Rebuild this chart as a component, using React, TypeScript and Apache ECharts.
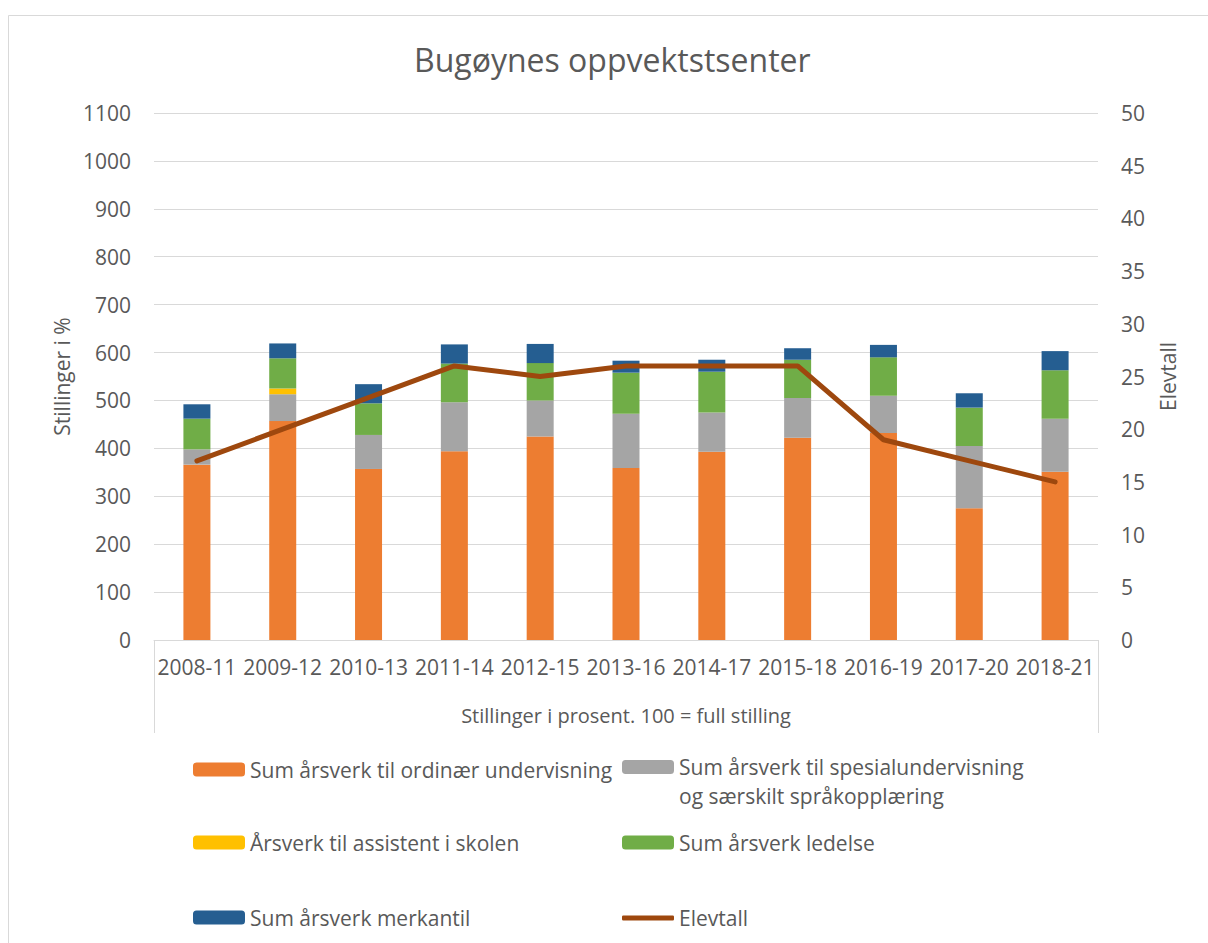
import React, { useEffect, useRef } from "react";
import * as echarts from "echarts";

const categories = ["2008-11", "2009-12", "2010-13", "2011-14", "2012-15", "2013-16", "2014-17", "2015-18", "2016-19", "2017-20", "2018-21"];
const ordinaer = [366, 457, 357, 394, 425, 359, 393, 422, 432, 275, 351];
const spesial = [32, 56, 71, 102, 75, 113, 82, 83, 78, 130, 111];
const assistent = [0, 12, 0, 0, 0, 0, 0, 0, 0, 0, 0];
const ledelse = [64, 63, 66, 81, 78, 86, 85, 80, 80, 80, 101];
const merkantil = [30, 31, 40, 40, 40, 25, 25, 24, 26, 30, 40];
const elevtall = [17, 20, 23, 26, 25, 26, 26, 26, 19, 17, 15];

const N1 = "Sum årsverk til ordinær undervisning";
const N2 = "Sum årsverk til spesialundervisning og særskilt språkopplæring";
const N3 = "Årsverk til assistent i skolen";
const N4 = "Sum årsverk ledelse";
const N5 = "Sum årsverk merkantil";
const N6 = "Elevtall";

const FONT = "Open Sans";
const TXT = "#595959";

export default function App() {
  const ref = useRef<HTMLDivElement>(null);
  useEffect(() => {
    const chart = echarts.init(ref.current!, null, { renderer: "svg" });
    const legendBase = (name: any, left: number, top: number, extra: any = {}) => ({
      show: true,
      data: [name],
      left,
      top,
      padding: 0,
      itemWidth: 52,
      itemHeight: extra.itemHeight ?? 14,
      selectedMode: false,
      textStyle: { fontFamily: FONT, fontSize: 21, color: TXT, lineHeight: extra.itemHeight ?? 14, ...(extra.textStyle || {}) },
      ...(extra.formatter ? { formatter: extra.formatter } : {}),
    });
    const barSeries = (name: string, data: number[], color: string) => ({
      name,
      type: "bar",
      stack: "total",
      data,
      barWidth: 27,
      itemStyle: { color },
      emphasis: { disabled: true },
    });
    chart.setOption({
      animation: false,
      backgroundColor: "#ffffff",
      textStyle: { fontFamily: FONT },
      title: {
        text: "Bugøynes oppvektstsenter",
        left: 414,
        top: 43,
        padding: 0,
        textStyle: { fontFamily: FONT, fontSize: 32, fontWeight: "normal", color: TXT },
      },
      grid: { left: 154, right: 110, top: 113, bottom: 303, containLabel: false },
      legend: [
        legendBase(N1, 193, 759),
        legendBase(N2, 622, 723.5, {
          textStyle: { lineHeight: 29 },
          formatter: () => "\nSum årsverk til spesialundervisning\nog særskilt språkopplæring",
        }),
        legendBase(N3, 193, 832),
        legendBase(N4, 622, 832),
        legendBase(N5, 193, 907),
        legendBase({ name: N6, icon: "roundRect" }, 622, 907.5, { itemHeight: 5 }),
      ],
      xAxis: {
        type: "category",
        data: categories,
        axisLine: { show: true, lineStyle: { color: "#d9d9d9", width: 1 } },
        axisTick: { show: false },
        axisLabel: { fontFamily: FONT, fontSize: 21, color: TXT, margin: 16, interval: 0 },
        name: "Stillinger i prosent. 100 = full stilling",
        nameLocation: "middle",
        nameGap: 65,
        nameTextStyle: { fontFamily: FONT, fontSize: 20, color: TXT },
      },
      yAxis: [
        {
          type: "value",
          min: 0,
          max: 1100,
          interval: 100,
          axisLine: { show: false },
          axisTick: { show: false },
          splitLine: { show: true, lineStyle: { color: "#d9d9d9", width: 1 } },
          axisLabel: { fontFamily: FONT, fontSize: 21, color: TXT, margin: 23, formatter: (v: number) => String(v) },
          name: "Stillinger i %",
          nameLocation: "middle",
          nameGap: 75,
          nameTextStyle: { fontFamily: FONT, fontSize: 21, color: TXT },
        },
        {
          type: "value",
          min: 0,
          max: 50,
          interval: 5,
          axisLine: { show: false },
          axisTick: { show: false },
          splitLine: { show: false },
          axisLabel: { fontFamily: FONT, fontSize: 21, color: TXT, margin: 23, formatter: (v: number) => String(v) },
          name: "Elevtall",
          nameLocation: "middle",
          nameGap: 59,
          nameTextStyle: { fontFamily: FONT, fontSize: 21, color: TXT },
        },
      ],
      series: [
        barSeries(N1, ordinaer, "#ED7D31"),
        barSeries(N2, spesial, "#A5A5A5"),
        barSeries(N3, assistent, "#FFC000"),
        barSeries(N4, ledelse, "#70AD47"),
        barSeries(N5, merkantil, "#255E91"),
        {
          name: N6,
          type: "line",
          yAxisIndex: 1,
          data: elevtall,
          symbol: "none",
          showSymbol: false,
          lineStyle: { color: "#9E480E", width: 5, cap: "round", join: "round" },
          itemStyle: { color: "#9E480E" },
          emphasis: { disabled: true },
          z: 5,
        },
      ],
      graphic: [
        {
          type: "rect",
          shape: { x: 8.5, y: 15.5, width: 1300, height: 1000 },
          style: { fill: "none", stroke: "#d9d9d9", lineWidth: 1 },
          silent: true,
        },
        {
          type: "line",
          shape: { x1: 154.5, y1: 640, x2: 154.5, y2: 733 },
          style: { stroke: "#d9d9d9", lineWidth: 1 },
          silent: true,
        },
        {
          type: "line",
          shape: { x1: 1098.5, y1: 640, x2: 1098.5, y2: 733 },
          style: { stroke: "#d9d9d9", lineWidth: 1 },
          silent: true,
        },
      ],
    });
    return () => chart.dispose();
  }, []);
  return <div ref={ref} style={{ position: "fixed", left: 0, top: 0, width: 1208, height: 943 }} />;
}
